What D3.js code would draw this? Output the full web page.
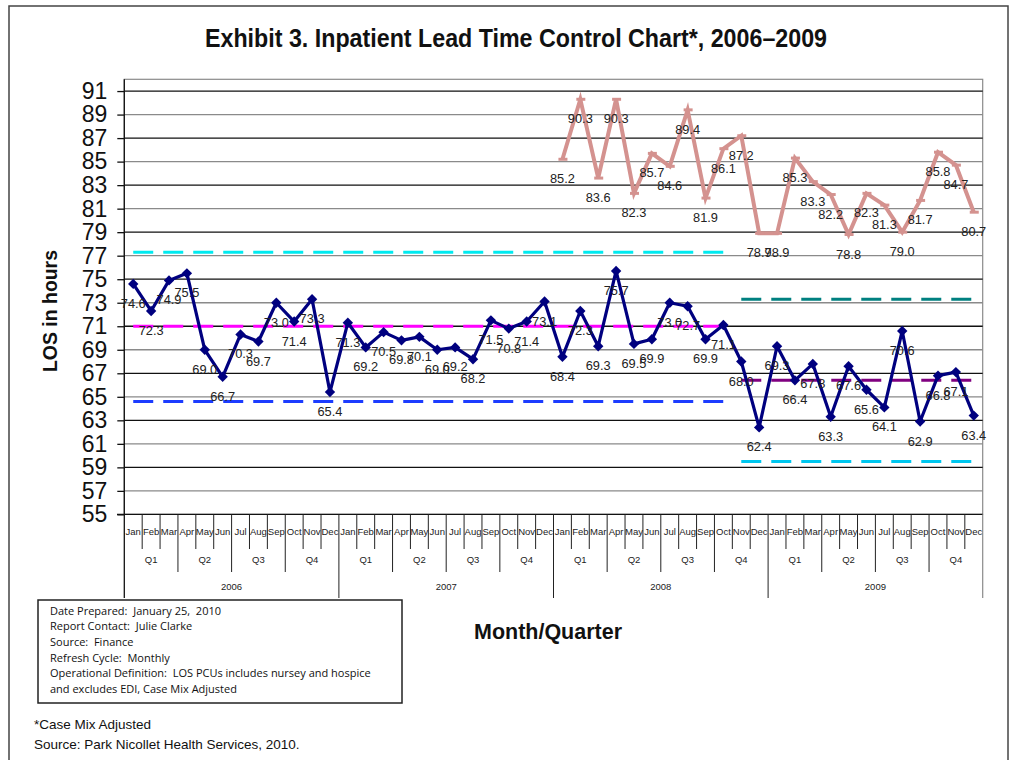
<!DOCTYPE html>
<html><head><meta charset="utf-8">
<script src="https://cdn.jsdelivr.net/npm/d3@7"></script>
<style>body{margin:0;background:#fff}svg{display:block}</style>
</head><body><svg id="c" width="1015" height="760"></svg>
<script>
const monthNames = ["Jan","Feb","Mar","Apr","May","Jun","Jul","Aug","Sep","Oct","Nov","Dec"];
const quarterNames = ["Q1","Q2","Q3","Q4"];
const years = ["2006","2007","2008","2009"];
const yTicks = [55,57,59,61,63,65,67,69,71,73,75,77,79,81,83,85,87,89,91];

// LOS in hours, monthly, Jan 2006 - Dec 2009
const losValues = [
  74.6,72.3,74.9,75.5,69.0,66.7,70.3,69.7,73.0,71.4,73.3,65.4,
  71.3,69.2,70.5,69.8,70.1,69.0,69.2,68.2,71.5,70.8,71.4,73.1,
  68.4,72.3,69.3,75.7,69.5,69.9,73.0,72.7,69.9,71.1,68.0,62.4,
  69.3,66.4,67.8,63.3,67.6,65.6,64.1,70.6,62.9,66.8,67.1,63.4
];
// second (upper) series, Jan 2008 - Dec 2009
const upperStart = 24;
const upperValues = [
  85.2,90.3,83.6,90.3,82.3,85.7,84.6,89.4,81.9,86.1,87.2,78.9,
  78.9,85.3,83.3,82.2,78.8,82.3,81.3,79.0,81.7,85.8,84.7,80.7
];
// control limits: period 1 = Jan 2006 - Oct 2008, period 2 = Nov 2008 - Dec 2009
const period1 = [0, 33];
const period2 = [34, 47];
const ucl1 = 77.3, mean1 = 71.0, lcl1 = 64.6;
const ucl2 = 73.3, mean2 = 66.4, lcl2 = 59.5;

const svg = d3.select("#c");
const L = 124.3, R = 982.7, T = 79.3, B = 514.4;
const idx = d3.range(48);
const x = d3.scaleBand().domain(idx).range([L, R]).padding(0);
const cx = i => x(i) + x.bandwidth()/2;
const y = d3.scaleLinear().domain([55, 92]).range([B, T]);

// outer frame
svg.append("rect").attr("x",9).attr("y",6).attr("width",999).attr("height",770)
  .attr("fill","none").attr("stroke","#444").attr("stroke-width",1.5);

// title
const narrow = "'Liberation Sans Narrow','Arial Narrow','Liberation Sans',Arial,sans-serif";
svg.append("text").attr("x",205).attr("y",47).attr("font-family",narrow).attr("font-weight","bold")
  .attr("font-size",26).attr("fill","#111").attr("textLength",622).attr("lengthAdjust","spacingAndGlyphs")
  .text("Exhibit 3. Inpatient Lead Time Control Chart*, 2006–2009");

// plot border
svg.append("rect").attr("x",L).attr("y",T).attr("width",R-L).attr("height",B-T)
  .attr("fill","none").attr("stroke","#8a8a8a").attr("stroke-width",1.2);

// gridlines
svg.append("g").selectAll("line").data(yTicks.slice(1)).join("line")
  .attr("x1",L).attr("x2",R).attr("y1",d=>y(d)).attr("y2",d=>y(d))
  .attr("stroke",(d,i)=> (i%2===0) ? "#8a8a8a" : "#111").attr("stroke-width",1.3);

// y axis
const yAxis = d3.axisLeft(y).tickValues(yTicks).tickSize(7).tickSizeOuter(0).tickPadding(10).tickFormat(d3.format("d"));
const gy = svg.append("g").attr("transform",`translate(${L},0)`).call(yAxis);
gy.select(".domain").attr("stroke","#111").attr("stroke-width",1.3).attr("d",`M0,${T}V598`);
gy.selectAll(".tick line").attr("stroke","#111").attr("stroke-width",1.3);
gy.selectAll(".tick text").attr("font-family","'Liberation Sans',Arial,sans-serif").attr("font-size",23).attr("fill","#111");

// x axis base line
svg.append("line").attr("x1",117).attr("x2",R).attr("y1",B).attr("y2",B).attr("stroke","#111").attr("stroke-width",1.3);
svg.append("line").attr("x1",R).attr("x2",R).attr("y1",B).attr("y2",598).attr("stroke","#8a8a8a").attr("stroke-width",1.2);

// multi-level category axis
const smallFont = "'Liberation Sans',Arial,sans-serif";
const gx = svg.append("g");
idx.forEach(i => {
  if (i > 0) {
    const len = (i % 12 === 0) ? 598 : (i % 3 === 0 ? 572 : 549);
    gx.append("line").attr("x1",x(i)).attr("x2",x(i)).attr("y1",B).attr("y2",len)
      .attr("stroke","#222").attr("stroke-width",1);
  }
  gx.append("text").attr("x",cx(i)).attr("y",535).attr("text-anchor","middle")
    .attr("font-family",smallFont).attr("font-size",9.5).attr("fill","#222")
    .text(monthNames[i % 12]);
});
d3.range(16).forEach(q => {
  gx.append("text").attr("x",(x(q*3) + x(q*3+2) + x.bandwidth())/2).attr("y",563).attr("text-anchor","middle")
    .attr("font-family",smallFont).attr("font-size",9.5).attr("fill","#222").text(quarterNames[q % 4]);
});
years.forEach((yr, k) => {
  gx.append("text").attr("x",(x(k*12) + x(k*12+11) + x.bandwidth())/2).attr("y",590).attr("text-anchor","middle")
    .attr("font-family",smallFont).attr("font-size",9.5).attr("fill","#222").text(yr);
});

// control limit lines
const limitLine = (range, val, color) => {
  svg.append("line").attr("x1",cx(range[0])).attr("x2",cx(range[1])).attr("y1",y(val)).attr("y2",y(val))
    .attr("stroke",color).attr("stroke-width",3).attr("stroke-dasharray","20,10");
};
limitLine(period1, ucl1, "#00eaf0");
limitLine(period1, mean1, "#ff00ff");
limitLine(period1, lcl1, "#1c3cff");
limitLine(period2, ucl2, "#008080");
limitLine(period2, mean2, "#800080");
limitLine(period2, lcl2, "#00c8f0");

// upper series
const upperData = upperValues.map((v,k)=>({i:upperStart+k, v}));
const line = d3.line().x(d=>cx(d.i)).y(d=>y(d.v));
svg.append("path").datum(upperData).attr("d",line).attr("fill","none")
  .attr("stroke","#d4928f").attr("stroke-width",4).attr("stroke-linejoin","miter");
svg.append("g").selectAll("line").data(upperData).join("line")
  .attr("x1",d=>cx(d.i)-4).attr("x2",d=>cx(d.i)+5).attr("y1",d=>y(d.v)).attr("y2",d=>y(d.v))
  .attr("stroke","#d4928f").attr("stroke-width",3);

// main series
const losData = losValues.map((v,i)=>({i, v}));
svg.append("path").datum(losData).attr("d",line).attr("fill","none")
  .attr("stroke","#00007f").attr("stroke-width",3.2).attr("stroke-linejoin","round");
svg.append("g").selectAll("path").data(losData).join("path")
  .attr("d",d=>{const px=cx(d.i), py=y(d.v), r=5.2; return `M${px},${py-r}L${px+r},${py}L${px},${py+r}L${px-r},${py}Z`;})
  .attr("fill","#00007f");

// data labels
const lbl = svg.append("g").attr("font-family",smallFont).attr("font-size",12.8).attr("fill","#222").attr("text-anchor","middle");
losData.concat(upperData).forEach(d => {
  lbl.append("text").attr("x",cx(d.i)).attr("y",y(d.v)+24).text(d.v.toFixed(1));
});

// axis titles
svg.append("text").attr("transform","translate(57,311) rotate(-90)").attr("text-anchor","middle")
  .attr("font-family",narrow).attr("font-weight","bold").attr("font-size",21).attr("fill","#111")
  .attr("textLength",122).attr("lengthAdjust","spacingAndGlyphs").text("LOS in hours");
svg.append("text").attr("x",548).attr("y",639).attr("text-anchor","middle")
  .attr("font-family",narrow).attr("font-weight","bold").attr("font-size",22).attr("fill","#111")
  .attr("textLength",148).attr("lengthAdjust","spacingAndGlyphs").text("Month/Quarter");

// info box
svg.append("rect").attr("x",38).attr("y",600).attr("width",364).attr("height",103)
  .attr("fill","#fff").attr("stroke","#222").attr("stroke-width",1.5);
const info = ["Date Prepared:  January 25,  2010","Report Contact:  Julie Clarke","Source:  Finance",
  "Refresh Cycle:  Monthly","Operational Definition:  LOS PCUs includes nursey and hospice","and excludes EDI, Case Mix Adjusted"];
svg.append("g").selectAll("text").data(info).join("text")
  .attr("x",50).attr("y",(d,i)=>614.5+i*15.7).attr("font-family","'Open Sans','Noto Sans',sans-serif")
  .attr("font-size",11).attr("fill","#111").style("white-space","pre").text(d=>d);

// footnotes
svg.append("text").attr("x",34).attr("y",729).attr("font-family",smallFont).attr("font-size",13.5).attr("fill","#111").text("*Case Mix Adjusted");
svg.append("text").attr("x",34).attr("y",749).attr("font-family",smallFont).attr("font-size",13.5).attr("fill","#111").text("Source: Park Nicollet Health Services, 2010.");
</script></body></html>
